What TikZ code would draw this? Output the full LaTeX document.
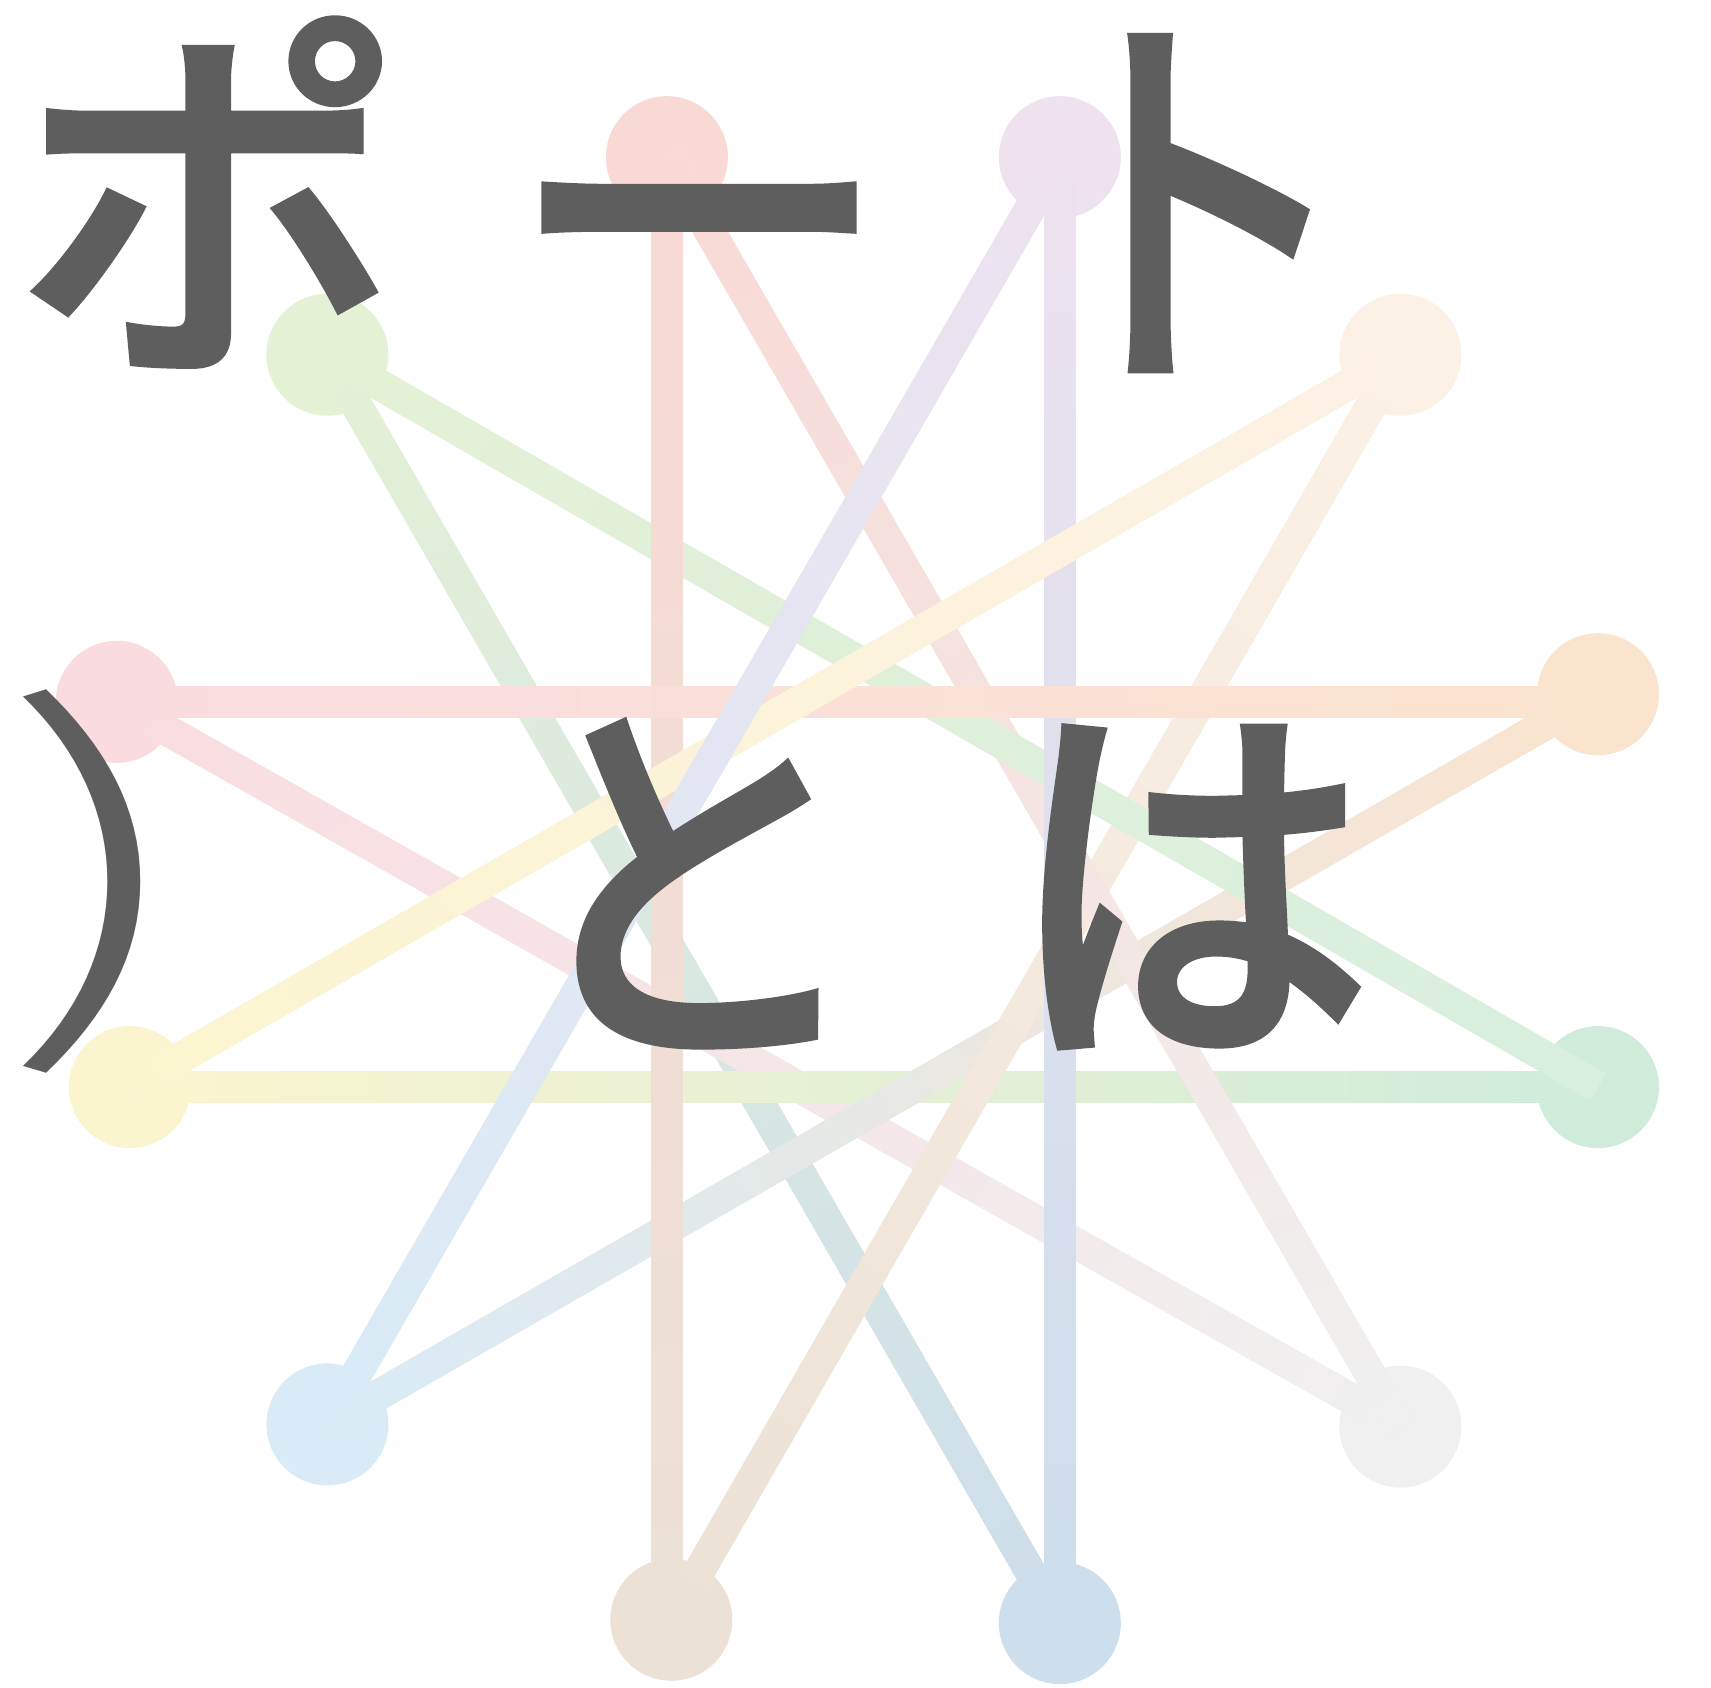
\documentclass[tikz,border=0pt]{standalone}
\usepackage{fontspec}
\newfontfamily\jp{Noto Sans CJK JP Medium}[FakeBold=1.5]
\newfontfamily\jplight{Noto Sans CJK JP Light}
\definecolor{cPinkTop}{HTML}{F9D9D4}
\definecolor{cPurple}{HTML}{EDE2EE}
\definecolor{cGreenTL}{HTML}{E4F1D5}
\definecolor{cCream}{HTML}{FCF1E5}
\definecolor{cPinkL}{HTML}{FADCE0}
\definecolor{cOrange}{HTML}{FBE4CE}
\definecolor{cYellow}{HTML}{FBF5CF}
\definecolor{cGreenR}{HTML}{CFECDA}
\definecolor{cGreenEnd}{HTML}{D8EFDF}
\definecolor{cBlueBL}{HTML}{D8EBF6}
\definecolor{cGray}{HTML}{F0F0F0}
\definecolor{cBeige}{HTML}{EBE1D5}
\definecolor{cBlueB}{HTML}{CDDEEC}
\definecolor{ink}{HTML}{5E5E5E}
\tikzset{
  port/.style={circle,minimum size=122pt,inner sep=0pt,fill=#1},
  link/.style={line width=31pt,line cap=butt},
  glyph/.style={inner sep=0pt,text=ink,font=\jp\fontsize{375}{375}\selectfont},
}
\newcommand{\conn}[4]{%
  \draw[link,draw=#3!50!#4] (#1.center) -- (#2.center);
  \path (#2.center); \pgfgetlastxy{\bx}{\by}%
  \path (#1.center); \pgfgetlastxy{\ax}{\ay}%
  \pgfmathsetmacro\ang{atan2(\by-\ay,\bx-\ax)}%
  \pgfmathsetmacro\len{veclen(\bx-\ax,\by-\ay)}%
  \begin{scope}[transform canvas={shift={(\ax,\ay)},rotate=\ang}]
  \shade[left color=#3,right color=#4] (0pt,-15.5pt) rectangle (\len pt,15.5pt);
  \end{scope}
}
\begin{document}
\begin{tikzpicture}[x=1.0915pt,y=-1.0915pt]
\useasboundingbox (0,0) rectangle (1567.6,1546.5);
\fill[white] (0,0) rectangle (1567.6,1546.5);
\node[port=cPinkTop] (pinkTop) at (611,144) {};
\node[port=cPurple] (purpleTop) at (971,144) {};
\node[port=cGreenTL] (greenTL) at (300,325) {};
\node[port=cCream] (creamTR) at (1283,325) {};
\node[port=cPinkL] (pinkLeft) at (107,643) {};
\node[port=cOrange] (orangeR) at (1464,636) {};
\node[port=cYellow] (yellowL) at (119,996) {};
\node[port=cGreenR] (greenR) at (1464,996) {};
\node[port=cBlueBL] (blueBL) at (300,1305) {};
\node[port=cGray] (grayBR) at (1283,1307) {};
\node[port=cBeige] (beigeB) at (615,1484) {};
\node[port=cBlueB] (blueB) at (971,1487) {};
\coordinate (pinkHEnd) at (1464,643);
\coordinate (vPinkEnd) at (611,1484);
\conn{greenTL}{blueB}{cGreenTL}{cBlueB}
\conn{pinkLeft}{grayBR}{cPinkL}{cGray}
\conn{yellowL}{greenR}{cYellow}{cGreenR}
\conn{orangeR}{blueBL}{cOrange}{cBlueBL}
\conn{creamTR}{beigeB}{cCream}{cBeige}
\conn{pinkTop}{grayBR}{cPinkTop}{cGray}
\conn{greenTL}{greenR}{cGreenTL}{cGreenEnd}
\conn{pinkTop}{vPinkEnd}{cPinkTop}{cBeige}
\conn{purpleTop}{blueB}{cPurple}{cBlueB}
\conn{pinkLeft}{pinkHEnd}{cPinkL}{cOrange}
\conn{creamTR}{yellowL}{cCream}{cYellow}
\conn{purpleTop}{blueBL}{cPurple}{cBlueBL}
\node[glyph,xscale=1.04,yscale=1.025] (po) at (191.5,176) {ポ};
\node[glyph,xscale=1.025] (choon) at (640.5,245.5) {ー};
\node[glyph,xscale=0.875,yscale=1.09] (to) at (1090,186) {ト};
\node[inner sep=0pt,text=ink,font=\jplight\fontsize{375}{375}\selectfont,xscale=1.72,yscale=1.02] (paren) at (93,808) {)};
\node[glyph,xscale=0.965,yscale=1.06] (toh) at (633,809.6) {と};
\node[glyph,xscale=0.98,yscale=1.045] (ha) at (1090,812.6) {は};
\end{tikzpicture}
\end{document}
